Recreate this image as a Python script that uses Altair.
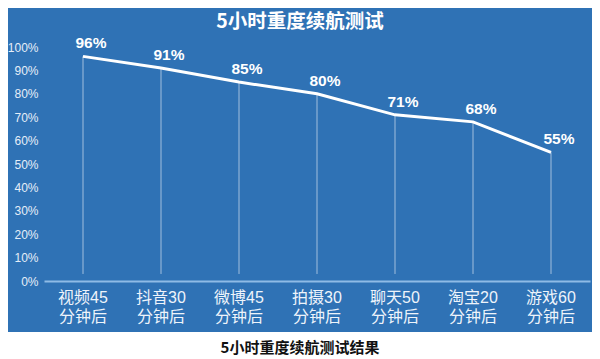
import altair as alt
import pandas as pd

categories = ["视频45 分钟后", "抖音30 分钟后", "微博45 分钟后", "拍摄30 分钟后",
              "聊天50 分钟后", "淘宝20 分钟后", "游戏60 分钟后"]
battery = [96, 91, 85, 80, 71, 68, 55]
labels = ["96%", "91%", "85%", "80%", "71%", "68%", "55%"]
y_ticks = [0, 10, 20, 30, 40, 50, 60, 70, 80, 90, 100]
title_text = "5小时重度续航测试"
caption_text = "5小时重度续航测试结果"

df = pd.DataFrame({"cat": categories, "val": battery, "lab": labels})

BLUE = "#2f72b5"
FONT = "Liberation Sans, Noto Sans CJK SC"

x = alt.X("cat:N", sort=categories,
          scale=alt.Scale(paddingInner=0, paddingOuter=0),
          axis=alt.Axis(title=None, labelAngle=0, labelExpr="split(datum.label, ' ')",
                        labelColor="#eef4fb", labelFontSize=16, labelLineHeight=19,
                        labelPadding=8, ticks=False, domainColor="#8fbbe6",
                        domainWidth=2, labelBaseline="top", labelFont=FONT))
y = alt.Y("val:Q", scale=alt.Scale(domain=[0, 100], nice=False),
          axis=alt.Axis(title=None, values=y_ticks, labelExpr="datum.value + '%'",
                        grid=False, domain=False, ticks=False, labelPadding=6,
                        labelColor="#e6eef8", labelFontSize=12, labelFont=FONT))

base = alt.Chart(df)

rules = base.mark_rule(color="white", strokeWidth=1, opacity=0.55).encode(
    x=x, y=y, y2=alt.datum(3))
line = base.mark_line(color="white", strokeWidth=3).encode(x=x, y=y)
text = base.mark_text(dx=8, dy=-13, fontSize=15.5, fontWeight="bold",
                      color="white", font=FONT).encode(x=x, y=y, text="lab:N")

white_band = alt.Chart(pd.DataFrame({"k": [0]})).mark_rect(color="white").encode(
    x=alt.value(-36), x2=alt.value(560), y=alt.value(285), y2=alt.value(400))
caption = alt.Chart(pd.DataFrame({"t": [caption_text]})).mark_text(
    fontSize=15, fontWeight="bold", color="#111111", font="Noto Sans CJK SC",
    baseline="middle", align="center").encode(
    x=alt.value(256), y=alt.value(301), text="t:N")

chart = alt.layer(rules, line, text, white_band, caption).properties(
    width=546, height=234,
    title=alt.Title(title_text, color="white", fontSize=19.5, fontWeight="bold",
                    font="Noto Sans CJK SC", anchor="middle", dx=-17, offset=4),
    background=BLUE,
    padding={"left": 36, "top": 39, "right": 2, "bottom": 78},
    autosize=alt.AutoSizeParams(type="none"),
).configure_view(strokeWidth=0)

chart.save("out.html", embed_options={"renderer": "svg", "actions": False})
